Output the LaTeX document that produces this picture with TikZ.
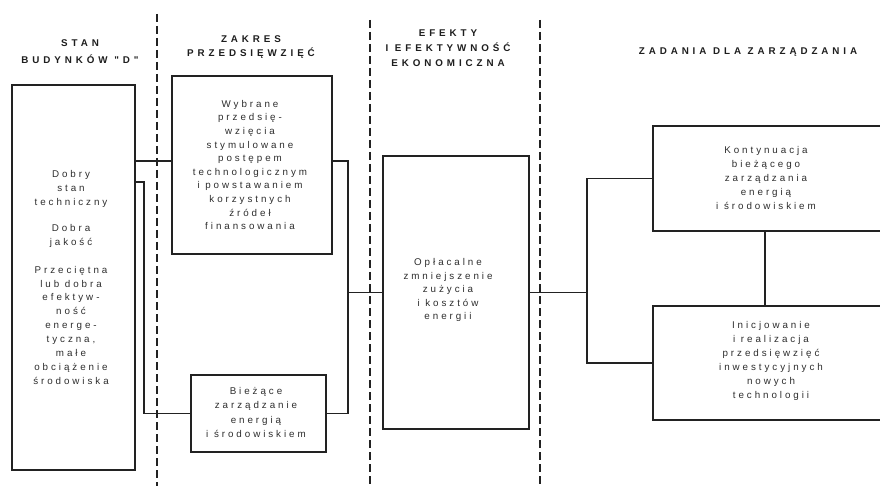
\documentclass[tikz,border=0pt]{standalone}
\usepackage{fontspec}
\setmainfont{Liberation Sans}
\newfontfamily\bodyfont[LetterSpace=30]{Liberation Sans}
\newfontfamily\headfont[LetterSpace=40]{Liberation Sans}
\usetikzlibrary{calc}
\definecolor{linec}{HTML}{222222}
\definecolor{textc}{HTML}{2E2E2E}
\definecolor{headc}{HTML}{1E1E1E}
\begin{document}
\begin{tikzpicture}[x=1pt,y=-1pt,
  box/.style={draw=linec, line width=1.6pt, rectangle, inner sep=0pt},
  txt/.style={font=\bodyfont\fontsize{9.8}{13.9}\selectfont, text=textc, align=center, inner sep=0pt},
  head/.style={font=\headfont\bfseries\fontsize{9.8}{15}\selectfont, text=headc, align=center, inner sep=0pt},
  wire/.style={draw=linec, line width=1.6pt},
  divider/.style={draw=linec, line width=1.4pt, dash pattern=on 8pt off 4pt}]
\clip (0,0) rectangle (880,486);
\fill[white] (0,0) rectangle (880,486);

% column dividers
\draw[divider] (157,14) -- (157,490);
\draw[divider] (370,20) -- (370,490);
\draw[divider] (540,20) -- (540,490);

% column headings
\node[head, font=\headfont\bfseries\fontsize{9.8}{17}\selectfont] (h1) at (80,51.5) {STAN\\BUDYNKÓW "D"};
\node[head, font=\headfont\bfseries\fontsize{9.8}{14}\selectfont] (h2) at (251,47) {ZAKRES\\PRZEDSIĘWZIĘĆ};
\node[head] (h3) at (448,48) {EFEKTY\\I EFEKTYWNOŚĆ\\EKONOMICZNA};
\node[head] (h4) at (748,52) {ZADANIA DLA ZARZĄDZANIA};

% boxes
\node[box, minimum width=123, minimum height=385] (L) at (73.5,277.5) {};
\node[box, minimum width=160, minimum height=178] (T) at (252,165) {};
\node[box, minimum width=135, minimum height=77] (B) at (258.5,413.5) {};
\node[box, minimum width=146, minimum height=273] (M) at (456,292.5) {};
\node[box, minimum width=250, minimum height=105] (K) at (778,178.5) {};
\node[box, minimum width=250, minimum height=114] (I) at (778,363) {};

% box texts
\node[txt] (tL) at (71,277.5) {Dobry\\stan\\techniczny\\[12pt]Dobra\\jakość\\[14pt]Przeciętna\\lub dobra\\efektyw-\\ność\\energe-\\tyczna,\\małe\\obciążenie\\środowiska};
\node[txt, font=\bodyfont\fontsize{9.8}{13.6}\selectfont] (tT) at (250,165) {Wybrane\\przedsię-\\wzięcia\\stymulowane\\postępem\\technologicznym\\i powstawaniem\\korzystnych\\źródeł\\finansowania};
\node[txt, font=\bodyfont\fontsize{9.8}{14.3}\selectfont] (tB) at (256,412.5) {Bieżące\\zarządzanie\\energią\\i środowiskiem};
\node[txt, font=\bodyfont\fontsize{9.8}{13.5}\selectfont] (tM) at (448,290) {Opłacalne\\zmniejszenie\\zużycia\\i kosztów\\energii};
\node[txt, font=\bodyfont\fontsize{9.8}{14}\selectfont] (tK) at (766,178) {Kontynuacja\\bieżącego\\zarządzania\\energią\\i środowiskiem};
\node[txt, font=\bodyfont\fontsize{9.8}{14}\selectfont] (tI) at (771,361) {Inicjowanie\\i realizacja\\przedsięwzięć\\inwestycyjnych\\nowych\\technologii};

% junction points of the connector buses
\coordinate (jA) at ($(L.north east)+(8,0)$);
\coordinate (jB) at ($(T.east)+(15,0)$);
\coordinate (jC) at ($(M.east)+(57,0)$);

% connectors
\draw[wire] ($(L.north east)+(0,77)$) -- ($(T.north west)+(0,86)$);
\draw[wire] ($(L.north east)+(0,98)$) -| (B.west -| jA) -- (B.west);
\draw[wire] ($(T.north east)+(0,86)$) -| (B.east -| jB) -- (B.east);
\draw[wire] (M.west -| jB) -- (M.west);
\draw[wire] (M.east) -- (jC);
\draw[wire] (K.west) -| (I.west -| jC) -- (I.west);
\draw[wire] ($(K.south west)+(113,0)$) -- ($(I.north west)+(113,0)$);
\end{tikzpicture}
\end{document}
